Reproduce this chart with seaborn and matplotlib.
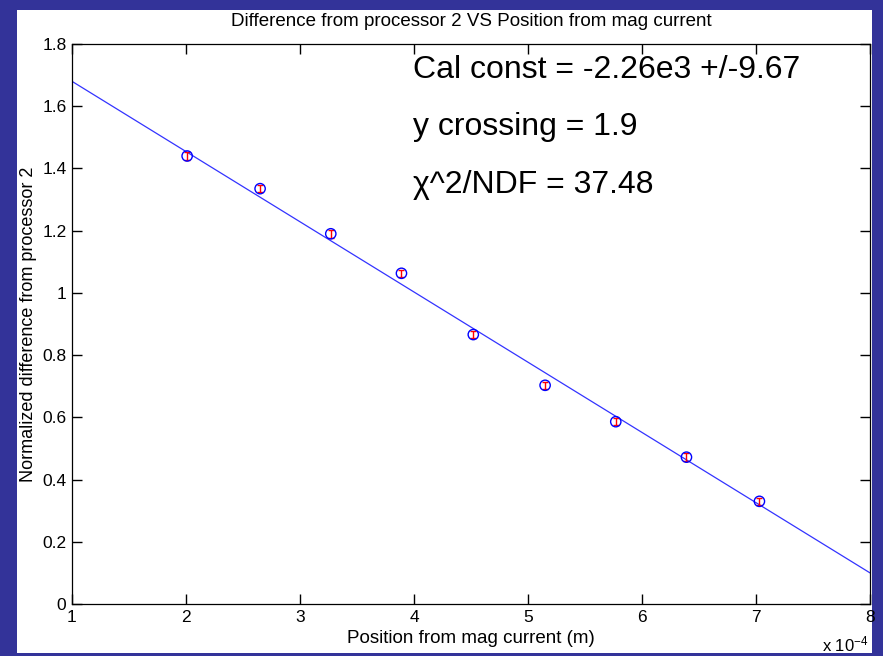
import matplotlib
matplotlib.use("Agg")
import matplotlib.pyplot as plt
import matplotlib.patches as mpatches
import numpy as np
import pandas as pd
import seaborn as sns

# ---- data ----
position_m = [2.01e-4, 2.65e-4, 3.27e-4, 3.89e-4, 4.52e-4, 5.15e-4, 5.77e-4, 6.39e-4, 7.03e-4]
norm_diff = [1.44, 1.335, 1.19, 1.063, 0.866, 0.703, 0.586, 0.472, 0.33]
norm_err = [0.012, 0.012, 0.012, 0.012, 0.012, 0.012, 0.012, 0.012, 0.012]
fit_x = [1e-4, 8e-4]
fit_y = [1.68, 0.10]
x_ticks = [1, 2, 3, 4, 5, 6, 7, 8]
y_ticks = [0, 0.2, 0.4, 0.6, 0.8, 1.0, 1.2, 1.4, 1.6, 1.8]
y_tick_labels = ["0", "0.2", "0.4", "0.6", "0.8", "1", "1.2", "1.4", "1.6", "1.8"]
title = "Difference from processor 2 VS Position from mag current"
xlabel = "Position from mag current (m)"
ylabel = "Normalized difference from processor 2"
annotations = ["Cal const = -2.26e3 +/-9.67", "y crossing = 1.9", "χ^2/NDF = 37.48"]

sns.set_style("ticks")
plt.rcParams["font.family"] = ["Liberation Sans", "DejaVu Sans"]
plt.rcParams["text.color"] = "black"
plt.rcParams["axes.labelcolor"] = "black"
plt.rcParams["mathtext.fontset"] = "custom"
plt.rcParams["mathtext.rm"] = "Liberation Sans"
plt.rcParams["mathtext.it"] = "Liberation Sans"

df = pd.DataFrame({"x": np.array(position_m) * 1e4, "y": norm_diff, "err": norm_err})
fit = pd.DataFrame({"x": np.array(fit_x) * 1e4, "y": fit_y})

fig = plt.figure(figsize=(8.83, 6.56), dpi=100, facecolor="#333399")
bg = mpatches.Rectangle((17 / 883, 3 / 656), (872 - 17) / 883, (646 - 3) / 656,
                        transform=fig.transFigure, facecolor="white",
                        edgecolor="none", zorder=-10)
fig.patches.append(bg)
ax = fig.add_axes([72 / 883, 1 - 604 / 656, (870 - 72) / 883, (604 - 44) / 656])
ax.set_zorder(1)
ax.set_facecolor("white")

sns.lineplot(data=fit, x="x", y="y", ax=ax, color="#3333ff", linewidth=0.9, zorder=2)
ax.errorbar(df["x"], df["y"], yerr=df["err"], fmt="none", ecolor="red",
            elinewidth=1.0, capsize=2.5, zorder=3)
sns.scatterplot(data=df, x="x", y="y", ax=ax, marker="o", s=55, facecolor="none",
                edgecolor="#0000ff", linewidth=1.0, zorder=4)

ax.set_xlim(1, 8)
ax.set_ylim(0, 1.8)
ax.set_xticks(x_ticks)
ax.set_xticklabels([str(t) for t in x_ticks])
ax.set_yticks(y_ticks)
ax.set_yticklabels(y_tick_labels)
ax.tick_params(direction="in", length=7, width=1.0, top=True, right=True,
               labelsize=12.5, pad=4, colors="black")
for s in ax.spines.values():
    s.set_visible(True)
    s.set_linewidth(0.9)
    s.set_color("black")
ax.set_title(title, fontsize=13.5, pad=13, color="black")
ax.set_xlabel(xlabel, fontsize=13.5, labelpad=4)
ax.set_ylabel(ylabel, fontsize=13.0, labelpad=4)

fig.text(822 / 883, 1 - 651 / 656, "x 10$^{-4}$", fontsize=12,
         ha="left", va="baseline", color="black")

ys = [70, 127, 185]
for t, yp in zip(annotations, ys):
    fig.text(413 / 883, 1 - yp / 656, t, fontsize=23, ha="left", va="center",
             color="black", zorder=5)

fig.savefig("out.png", dpi=100, facecolor=fig.get_facecolor())
